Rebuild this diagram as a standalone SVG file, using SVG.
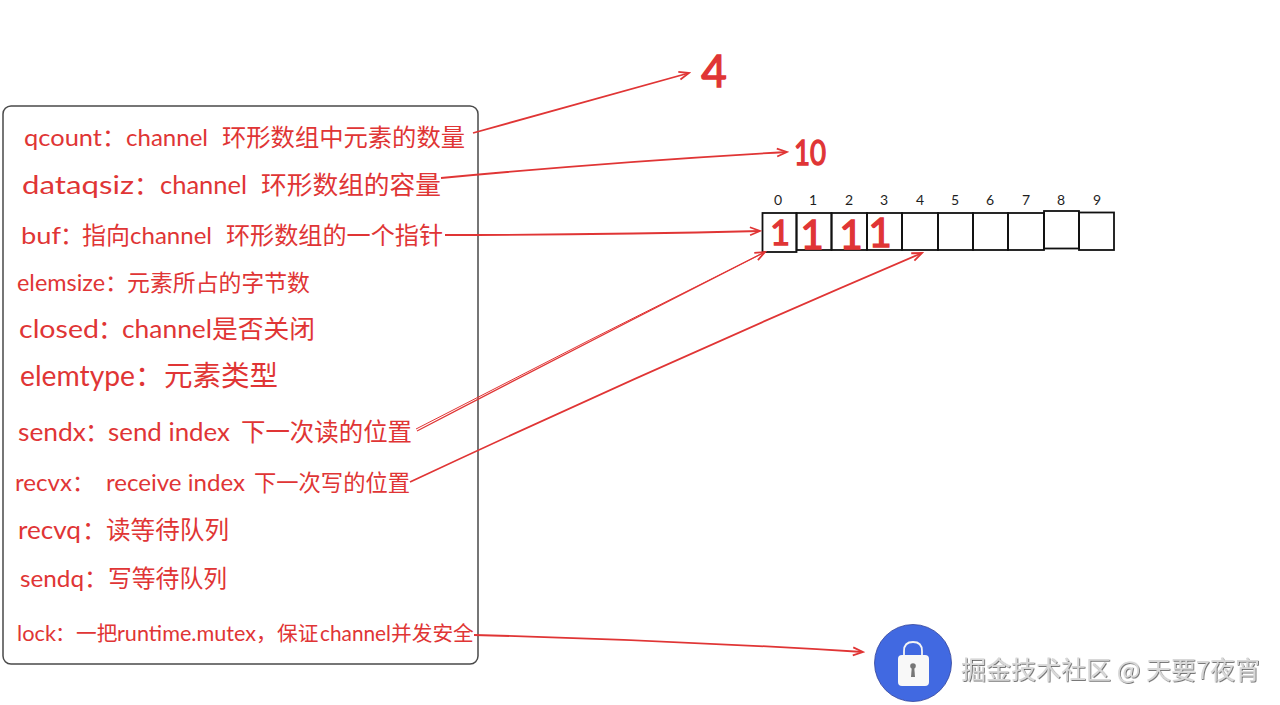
<svg xmlns="http://www.w3.org/2000/svg" width="1280" height="705" viewBox="0 0 1280 705">
<style>
text{font-family:"Lato","Noto Sans CJK SC",sans-serif;fill:#e03535}
.c{font-family:"Noto Sans CJK SC",sans-serif;font-weight:400}
.l{font-family:"Lato","Noto Sans",sans-serif}
.n{font-family:"Lato",sans-serif;font-size:14px;fill:#1e1e1e;text-anchor:middle}
.b{font-family:"Lato",sans-serif;font-weight:400;text-anchor:middle;stroke:#e03535;stroke-width:1.400}
.cell{fill:none;stroke:#111;stroke-width:1.800}
.wire{fill:none;stroke:#e03535;stroke-width:1.800;marker-end:url(#arrow)}
</style>
<defs>
<marker id="arrow" markerUnits="userSpaceOnUse" markerWidth="14" markerHeight="12" refX="12" refY="6" orient="auto">
<path d="M2 2L12 6L2 10" fill="none" stroke="#e03535" stroke-width="1.800"/>
</marker>
<filter id="wm" x="-5%" y="-20%" width="110%" height="140%">
<feDropShadow dx="0.800" dy="0.800" stdDeviation="0.400" flood-color="#444" flood-opacity="0.900"/>
</filter>
</defs>
<rect width="1280" height="705" fill="#fff"/>

<g id="struct">
<rect x="3" y="106" width="475" height="558" rx="8" fill="#fff" stroke="#4a4a4a" stroke-width="1.500"/>
<text font-size="24" y="146"><tspan class="l" x="24" textLength="78" lengthAdjust="spacingAndGlyphs">qcount</tspan><tspan class="c" x="102">：</tspan><tspan class="l" x="126" textLength="82" lengthAdjust="spacingAndGlyphs">channel</tspan><tspan class="c" x="222" textLength="243" lengthAdjust="spacingAndGlyphs">环形数组中元素的数量</tspan></text>
<text font-size="25.500" y="194"><tspan class="l" x="22" textLength="112" lengthAdjust="spacingAndGlyphs">dataqsiz</tspan><tspan class="c" x="134">：</tspan><tspan class="l" x="160" textLength="87" lengthAdjust="spacingAndGlyphs">channel</tspan><tspan class="c" x="261" textLength="180" lengthAdjust="spacingAndGlyphs">环形数组的容量</tspan></text>
<text font-size="24" y="244"><tspan class="l" x="21" textLength="40" lengthAdjust="spacingAndGlyphs">buf</tspan><tspan class="c" x="60">：</tspan><tspan class="c" x="82">指向</tspan><tspan class="l" x="130" textLength="82" lengthAdjust="spacingAndGlyphs">channel</tspan><tspan class="c" x="226" textLength="217" lengthAdjust="spacingAndGlyphs">环形数组的一个指针</tspan></text>
<text font-size="23" y="291"><tspan class="l" x="17" textLength="88" lengthAdjust="spacingAndGlyphs">elemsize</tspan><tspan class="c" x="105">：</tspan><tspan class="c" x="127" textLength="183" lengthAdjust="spacingAndGlyphs">元素所占的字节数</tspan></text>
<text font-size="25.500" y="338"><tspan class="l" x="19" textLength="80" lengthAdjust="spacingAndGlyphs">closed</tspan><tspan class="c" x="98">：</tspan><tspan class="l" x="122" textLength="90" lengthAdjust="spacingAndGlyphs">channel</tspan><tspan class="c" x="212" textLength="103" lengthAdjust="spacingAndGlyphs">是否关闭</tspan></text>
<text font-size="28.500" y="386"><tspan class="l" x="20" textLength="115" lengthAdjust="spacingAndGlyphs">elemtype</tspan><tspan class="c" x="135">：</tspan><tspan class="c" x="164" textLength="114" lengthAdjust="spacingAndGlyphs">元素类型</tspan></text>
<text font-size="24.500" y="441"><tspan class="l" x="18" textLength="68" lengthAdjust="spacingAndGlyphs">sendx</tspan><tspan class="c" x="85">：</tspan><tspan class="l" x="108" textLength="122" lengthAdjust="spacingAndGlyphs">send index</tspan><tspan class="c" x="241" textLength="171" lengthAdjust="spacingAndGlyphs">下一次读的位置</tspan></text>
<text font-size="22.500" y="491"><tspan class="l" x="15" textLength="57" lengthAdjust="spacingAndGlyphs">recvx</tspan><tspan class="c" x="72">：</tspan><tspan class="l" x="106" textLength="139" lengthAdjust="spacingAndGlyphs">receive index</tspan><tspan class="c" x="254" textLength="156" lengthAdjust="spacingAndGlyphs">下一次写的位置</tspan></text>
<text font-size="24.500" y="539"><tspan class="l" x="18" textLength="63" lengthAdjust="spacingAndGlyphs">recvq</tspan><tspan class="c" x="82">：</tspan><tspan class="c" x="106" textLength="123" lengthAdjust="spacingAndGlyphs">读等待队列</tspan></text>
<text font-size="24" y="587"><tspan class="l" x="20" textLength="64" lengthAdjust="spacingAndGlyphs">sendq</tspan><tspan class="c" x="84">：</tspan><tspan class="c" x="108" textLength="119" lengthAdjust="spacingAndGlyphs">写等待队列</tspan></text>
<text font-size="20.700" y="641"><tspan class="l" x="17" textLength="39" lengthAdjust="spacingAndGlyphs">lock</tspan><tspan class="c" x="55">：</tspan><tspan class="c" x="76">一把</tspan><tspan class="l" x="117" textLength="139" lengthAdjust="spacingAndGlyphs">runtime.mutex</tspan><tspan class="c" x="256">，</tspan><tspan class="c" x="277">保证</tspan><tspan class="l" x="320" textLength="71" lengthAdjust="spacingAndGlyphs">channel</tspan><tspan class="c" x="391">并发安全</tspan></text>
</g>

<g id="qcount-value"><text class="b" x="714" y="87" font-size="44" stroke-width="2.500">4</text></g>
<g id="dataqsiz-value"><text class="b" x="810" y="165" font-size="34" textLength="32" lengthAdjust="spacingAndGlyphs">10</text></g>

<g id="ring-buffer">
<rect class="cell" x="762.500" y="213" width="34" height="39"/>
<rect class="cell" x="796.500" y="213" width="35" height="37"/>
<rect class="cell" x="831.500" y="213" width="35.500" height="37"/>
<rect class="cell" x="867" y="213" width="35" height="37"/>
<rect class="cell" x="902" y="213" width="36" height="37"/>
<rect class="cell" x="938" y="213" width="35" height="37"/>
<rect class="cell" x="973" y="213" width="35" height="37"/>
<rect class="cell" x="1008" y="213" width="36" height="37"/>
<rect class="cell" x="1044" y="211" width="35" height="37.500"/>
<rect class="cell" x="1079" y="212.500" width="35" height="37.500"/>
<text class="n" x="778" y="205">0</text><text class="n" x="813" y="205">1</text><text class="n" x="849" y="205">2</text><text class="n" x="884" y="205">3</text><text class="n" x="920" y="205">4</text><text class="n" x="955" y="205">5</text><text class="n" x="990" y="205">6</text><text class="n" x="1026" y="205">7</text><text class="n" x="1061" y="205">8</text><text class="n" x="1097" y="205">9</text>
<text class="b" x="780" y="245" font-size="34">1</text>
<text class="b" x="812" y="249" font-size="40">1</text>
<text class="b" x="851" y="249" font-size="40">1</text>
<text class="b" x="880" y="247" font-size="40">1</text>
</g>

<g id="lock-icon">
<circle cx="913" cy="663" r="38.500" fill="#4169e1" stroke="#34449a" stroke-width="0.800"/>
<path d="M904 656V651Q904 642 913 642Q922 642 922 651V656" fill="none" stroke="#f4f4f4" stroke-width="1.800"/>
<rect x="898" y="655" width="31" height="31" rx="4" fill="#f8f8f8"/>
<circle cx="913" cy="666" r="2.800" fill="#777"/>
<path d="M911.800 667H914.200L915 677H911Z" fill="#777"/>
</g>

<g id="watermark"><text x="961" y="679" font-size="24.500" textLength="299" lengthAdjust="spacingAndGlyphs" style="font-family:'Noto Sans CJK SC',sans-serif;fill:#d8d8d8" filter="url(#wm)">掘金技术社区 @ 天要7夜宵</text></g>

<g id="connectors">
<path class="wire" d="M473 133Q580 103 689 73"/>
<path class="wire" d="M441 178Q610 162 787 152"/>
<path class="wire" d="M445 235Q600 235 760 231"/>
<path class="wire" d="M417 431Q590 341 765 252" style="stroke-width:1.200"/>
<path d="M416 429Q590 339 763 253" fill="none" stroke="#e03535" stroke-width="1"/>
<path class="wire" d="M410 482Q660 365 922 253"/>
<path class="wire" d="M474 635Q670 640 863 652"/>
</g>
</svg>
